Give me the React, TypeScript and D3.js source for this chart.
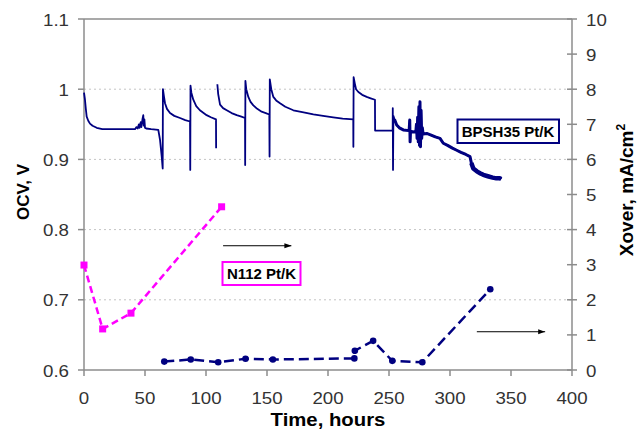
import React from 'react';
import * as d3 from 'd3';

// ---------- data ----------
const timeTicks = [0, 50, 100, 150, 200, 250, 300, 350, 400];
const ocvTicks = [0.6, 0.7, 0.8, 0.9, 1.0, 1.1];
const ocvTickLabels = ['0.6', '0.7', '0.8', '0.9', '1', '1.1'];
const xoverTicks = [0, 1, 2, 3, 4, 5, 6, 7, 8, 9, 10];
const gridValues = [0.7, 0.8, 0.9, 1.0];

// OCV, run 1 (hours, V)
const ocvRun1Time = [
  0, 0.8, 1.5, 2.2, 3.5, 4.9, 7, 10.4, 15, 24, 35, 41.8,
  43, 44, 45, 45.5, 46.5, 47, 48, 48.6, 49, 49.5, 50, 51, 55, 60.9,
  62.3, 63.7, 64.5, 64.7, 65.5, 66.4, 68, 70.5, 74, 78.7, 83, 86.9,
  87.1, 87.3, 88, 89.6, 92, 95, 100.5, 104, 108.2, 108.3,
];
const ocvRun1Volt = [
  0.995, 0.985, 0.972, 0.961, 0.955, 0.951, 0.948, 0.945, 0.943, 0.943, 0.943, 0.943,
  0.946, 0.944, 0.95, 0.945, 0.953, 0.946, 0.958, 0.963, 0.948, 0.957, 0.945, 0.944, 0.943, 0.942,
  0.928, 0.904, 0.887, 1.0, 0.99, 0.98, 0.972, 0.966, 0.962, 0.959, 0.956, 0.954,
  0.885, 1.005, 0.995, 0.985, 0.976, 0.97, 0.963, 0.96, 0.957, 0.916,
];

// OCV, run 2 (hours, V)
const ocvRun2Time = [
  109.3, 110, 111.5, 114, 117, 121, 125.2, 129, 132,
  132.1, 132.3, 133, 134.7, 136.5, 138.8, 142, 145.6, 149, 151.9,
  152.1, 152.3, 153.5, 155.2, 157.5, 160.7, 165, 171.6, 180, 188, 196, 204.3, 212, 220.7,
  220.8, 221, 222, 223, 224.9, 228, 231.7, 235, 238.5,
  238.6, 253,
];
const ocvRun2Volt = [
  1.007, 0.993, 0.978, 0.973, 0.97, 0.966, 0.963, 0.961, 0.959,
  0.892, 1.012, 1.0, 0.989, 0.982, 0.977, 0.972, 0.968, 0.966, 0.964,
  0.904, 1.014, 1.0, 0.989, 0.984, 0.98, 0.975, 0.97, 0.967, 0.964, 0.962, 0.96, 0.958, 0.957,
  0.918, 1.017, 1.008, 1.0, 0.996, 0.992, 0.989, 0.987, 0.985,
  0.941, 0.941,
];

// OCV, run 2 continued, noisy part (hours, V)
const ocvNoisyTime = [
  253, 253.1, 253.3, 253.6, 254.5, 256.3, 258.5, 261.7,
  266.5, 267, 267.3, 267.6, 270, 272,
  272.5, 273, 273.5, 274, 274.5, 275, 275.4, 275.8, 276.3, 276.8, 277.3, 278,
  280.9, 284, 288, 291.8, 294.5, 298, 302, 305.5, 309, 313, 316.4,
  317.5, 319.1, 322, 325, 327.3, 331, 335, 338, 341, 342,
];
const ocvNoisyVolt = [
  0.941, 0.973, 0.885, 0.962, 0.957, 0.949, 0.945, 0.942,
  0.941, 0.956, 0.925, 0.94, 0.939, 0.94,
  0.95, 0.93, 0.96, 0.925, 0.975, 0.92, 0.982, 0.918, 0.97, 0.93, 0.945, 0.936,
  0.937, 0.935, 0.932, 0.93, 0.923, 0.92, 0.916, 0.913, 0.91, 0.907, 0.904,
  0.895, 0.887, 0.883, 0.88, 0.878, 0.876, 0.874, 0.873, 0.873, 0.872,
];

// Crossover, N112 Pt/K (hours, mA/cm2)
const n112Time = [0, 15.3, 38.5, 112.8];
const n112Xover = [2.99, 1.17, 1.62, 4.65];

// Crossover, BPSH35 Pt/K (hours, mA/cm2)
const bpshTime = [65.8, 87.5, 110, 132.4, 154.8, 221.6, 222, 237, 252.7, 277.3, 333];
const bpshXover = [0.24, 0.3, 0.22, 0.32, 0.3, 0.33, 0.55, 0.83, 0.26, 0.22, 2.3];

const labelBPSH = 'BPSH35 Pt/K';
const labelN112 = 'N112 Pt/K';

// ---------- layout ----------
const W = 639;
const H = 431;
const PL = 84, PR = 572, PT = 19, PB = 370;
const FONT = "'Liberation Sans', Arial, sans-serif";
const NAVY = '#000080';
const MAGENTA = '#ff00ff';
const AXIS = '#8c8c8c';
const TICKTXT = '#333333';
const SX = 1.1;

const x = d3.scaleLinear().domain([0, 400]).range([PL, PR]);
const yL = d3.scaleLinear().domain([0.6, 1.1]).range([PB, PT]);
const yR = d3.scaleLinear().domain([0, 10]).range([PB, PT]);

const zip = (a: number[], b: number[]) => a.map((v, i) => [v, b[i]] as [number, number]);

const lineL = d3.line<[number, number]>().x(d => x(d[0])).y(d => yL(d[1]));
const lineR = d3.line<[number, number]>().x(d => x(d[0])).y(d => yR(d[1]));

function T(props: {x: number; y: number; anchor?: string; size: number; bold?: boolean; fill?: string; sx?: number; children: React.ReactNode}) {
  const { x: tx, y: ty, anchor = 'middle', size, bold, fill = '#000', sx = SX, children } = props;
  return (
    <text
      transform={`translate(${tx},${ty}) scale(${sx},1)`}
      textAnchor={anchor}
      fontSize={size}
      fontWeight={bold ? 'bold' : 'normal'}
      fill={fill}
      fontFamily={FONT}
    >
      {children}
    </text>
  );
}

export default function App() {
  const run1 = zip(ocvRun1Time, ocvRun1Volt);
  const run2 = zip(ocvRun2Time, ocvRun2Volt);
  const noisy = zip(ocvNoisyTime, ocvNoisyVolt);
  const n112 = zip(n112Time, n112Xover);
  const bpsh = zip(bpshTime, bpshXover);

  // arrows (data coords)
  const arrow1 = { t0: 114, t1: 170, v: yL(0.777) };
  const arrow2 = { t0: 322, t1: 378, v: yR(1.09) };

  return (
    <svg width={W} height={H} style={{ position: 'absolute', left: 0, top: 0, background: '#fff' }}>
      <defs>
        <marker id="ah" viewBox="0 0 10 10" refX="10" refY="5" markerWidth="7" markerHeight="7" orient="auto" markerUnits="userSpaceOnUse">
          <path d="M0,1.5 L10,5 L0,8.5 z" fill="#000" />
        </marker>
      </defs>
      <rect x={0} y={0} width={W} height={H} fill="#fff" />

      {/* grid */}
      {gridValues.map(v => (
        <line key={v} x1={PL} x2={PR} y1={yL(v)} y2={yL(v)} stroke="#c4c4c4" strokeWidth={1} strokeDasharray="2,3" />
      ))}

      {/* frame */}
      <line x1={PL} x2={PR} y1={PT} y2={PT} stroke={AXIS} strokeWidth={1.5} />
      <line x1={PL} x2={PL} y1={PT} y2={PB} stroke={AXIS} strokeWidth={1.5} />
      <line x1={PR} x2={PR} y1={PT} y2={PB} stroke={AXIS} strokeWidth={1.5} />
      <line x1={PL} x2={PR} y1={PB} y2={PB} stroke={AXIS} strokeWidth={1.5} />

      {/* left ticks */}
      {ocvTicks.map((v, i) => (
        <g key={v}>
          <line x1={PL - 6} x2={PL} y1={yL(v)} y2={yL(v)} stroke={AXIS} strokeWidth={1.5} />
          <T x={69} y={yL(v) + 6.5} anchor="end" size={17} fill={TICKTXT}>{ocvTickLabels[i]}</T>
        </g>
      ))}

      {/* right ticks */}
      {xoverTicks.map(v => (
        <g key={v}>
          <line x1={PR - 5} x2={PR + 5} y1={yR(v)} y2={yR(v)} stroke={AXIS} strokeWidth={1.5} />
          <T x={586} y={yR(v) + 6.5} anchor="start" size={17} fill={TICKTXT}>{String(v)}</T>
        </g>
      ))}

      {/* bottom ticks */}
      {timeTicks.map(v => (
        <g key={v}>
          <line x1={x(v)} x2={x(v)} y1={PB} y2={PB + 6} stroke={AXIS} strokeWidth={1.5} />
          <T x={x(v)} y={404} anchor="middle" size={17} fill={TICKTXT}>{String(v)}</T>
        </g>
      ))}

      {/* axis titles */}
      <T x={328} y={426} anchor="middle" size={18} bold sx={1.13}>Time, hours</T>
      <text transform={`translate(29,192) rotate(-90)`} textAnchor="middle" fontSize={17} fontWeight="bold" fontFamily={FONT}>OCV, V</text>
      <text transform={`translate(633,190) rotate(-90)`} textAnchor="middle" fontSize={19} fontWeight="bold" fontFamily={FONT}>
        Xover, mA/cm<tspan fontSize={12} dy={-8}>2</tspan>
      </text>

      {/* OCV curve */}
      <path d={lineL(run1) || ''} fill="none" stroke={NAVY} strokeWidth={1.8} strokeLinejoin="round" />
      <path d={lineL(run2) || ''} fill="none" stroke={NAVY} strokeWidth={1.8} strokeLinejoin="round" />
      <path d={lineL(noisy) || ''} fill="none" stroke={NAVY} strokeWidth={1.8} strokeLinejoin="round" />
      <path d={lineL(noisy.filter(d => d[0] >= 254.5)) || ''} fill="none" stroke={NAVY} strokeWidth={3} strokeLinejoin="round" />
      <path d={lineL(noisy.filter(d => d[0] >= 317.5)) || ''} fill="none" stroke={NAVY} strokeWidth={4.5} strokeLinejoin="round" />

      {/* N112 crossover */}
      <path d={lineR(n112) || ''} fill="none" stroke={MAGENTA} strokeWidth={2.5} strokeDasharray="7,4" />
      {n112.map((d, i) => (
        <rect key={i} x={x(d[0]) - 3.5} y={yR(d[1]) - 3.5} width={7} height={7} fill={MAGENTA} />
      ))}

      {/* BPSH crossover */}
      <path d={lineR(bpsh) || ''} fill="none" stroke={NAVY} strokeWidth={2.5} strokeDasharray="10,5" />
      {bpsh.map((d, i) => (
        <circle key={i} cx={x(d[0])} cy={yR(d[1])} r={3.3} fill={NAVY} />
      ))}

      {/* arrows */}
      <line x1={x(arrow1.t0)} x2={x(arrow1.t1)} y1={arrow1.v} y2={arrow1.v} stroke="#000" strokeWidth={1} markerEnd="url(#ah)" />
      <line x1={x(arrow2.t0)} x2={x(arrow2.t1)} y1={arrow2.v} y2={arrow2.v} stroke="#000" strokeWidth={1} markerEnd="url(#ah)" />

      {/* labels */}
      <rect x={457.5} y={119.5} width={101.5} height={23.5} fill="#fff" stroke={NAVY} strokeWidth={2} />
      <T x={508} y={136.5} anchor="middle" size={15} bold sx={1}>{labelBPSH}</T>
      <rect x={222.5} y={262} width={78} height={23} fill="#fff" stroke={MAGENTA} strokeWidth={2} />
      <T x={261.5} y={279} anchor="middle" size={15} bold sx={1}>{labelN112}</T>
    </svg>
  );
}
